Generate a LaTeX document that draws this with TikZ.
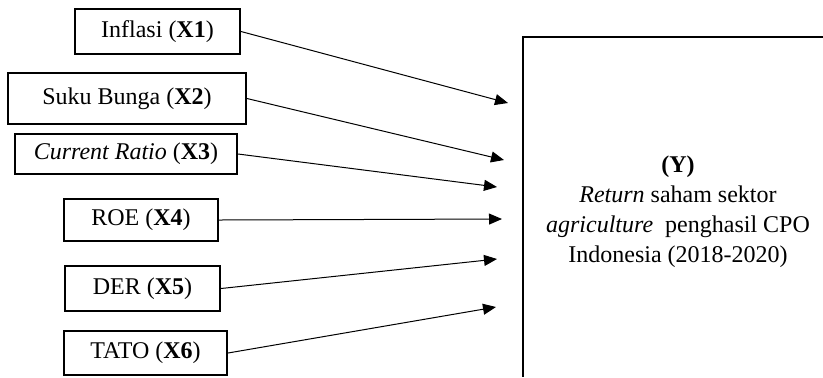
\documentclass[tikz,border=0pt]{standalone}
\usepackage{fontspec}
\setmainfont{Liberation Serif}
\usetikzlibrary{arrows.meta}

\begin{document}
\begin{tikzpicture}[
        x=0.5pt, y=-0.5pt,
        var/.style={draw, line width=1pt, rectangle, inner sep=0pt, align=center, font=\fontsize{12}{15}\selectfont},
        arrow/.style={-{Triangle[length=6.5pt, width=5.5pt]}, line width=0.5pt}
      ]
        \useasboundingbox (0,0) rectangle (823,377);

        \node (x1) [var, minimum width=82.5pt, minimum height=22.5pt] at (157.5,31.5) {Inflasi (\textbf{X1})};
        \node (x2) [var, minimum width=119pt, minimum height=25.5pt] at (127,98.5) {Suku Bunga (\textbf{X2})};
        \node (x3) [var, minimum width=111pt, minimum height=20pt] at (126,154) {\textit{Current Ratio} (\textbf{X3})};
        \node (x4) [var, minimum width=77pt, minimum height=21pt] at (141,220) {ROE (\textbf{X4})};
        \node (x5) [var, minimum width=77.5pt, minimum height=22.5pt] at (142.5,288.5) {DER (\textbf{X5})};
        \node (x6) [var, minimum width=81.5pt, minimum height=22pt] at (145.5,353) {TATO (\textbf{X6})};

        % dependent variable, box runs off the page
        \draw [line width=1pt] (823,37) -| (523,377);
        \node (y) [align=center, font=\fontsize{12}{15}\selectfont] at (678,212)
          {\textbf{(Y)}\\\textit{Return} saham sektor\\\textit{agriculture}\ \ penghasil CPO\\Indonesia (2018-2020)};

        \coordinate (t1) at (508,103);
        \coordinate (t2) at (504,160);
        \coordinate (t3) at (497,187);
        \coordinate (t4) at (502,219);
        \coordinate (t5) at (497,259);
        \coordinate (t6) at (496,307);

        \draw [arrow] (x1.east) -- (t1);
        \draw [arrow] (x2.east) -- (t2);
        \draw [arrow] (x3.east) -- (t3);
        \draw [arrow] (x4.east) -- (t4);
        \draw [arrow] (x5.east) -- (t5);
        \draw [arrow] (x6.east) -- (t6);
      \end{tikzpicture}
\end{document}
